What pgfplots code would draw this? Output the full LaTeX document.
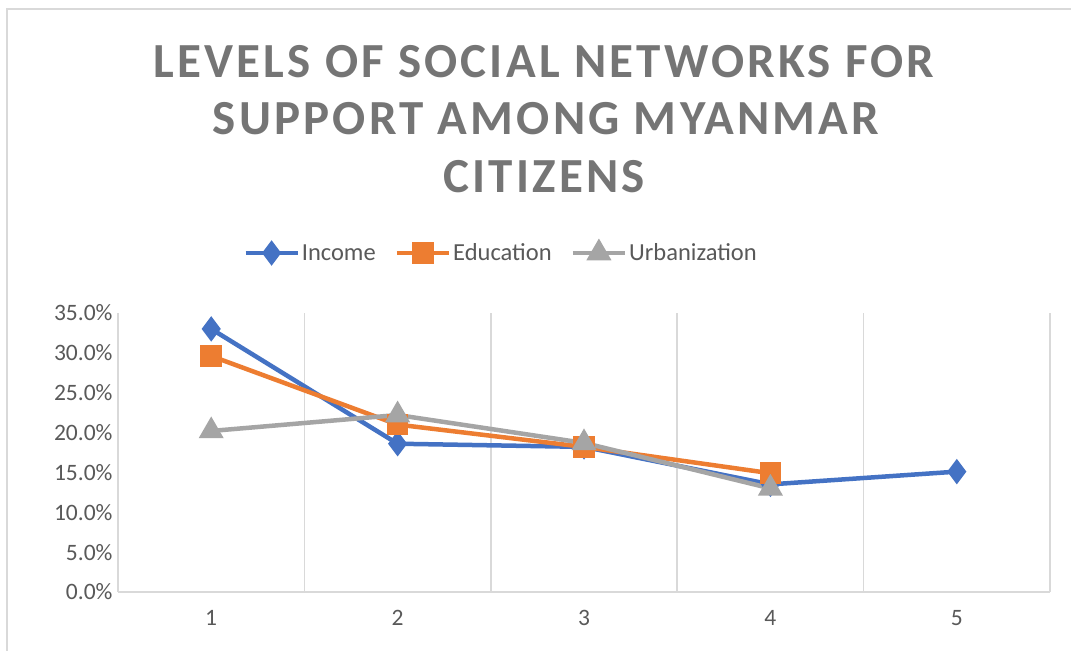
\documentclass[border=0pt]{standalone}
\usepackage{fontspec}
\setmainfont{Carlito}
\usepackage{pgfplots}
\pgfplotsset{compat=1.18}
\definecolor{cblue}{HTML}{4472C4}
\definecolor{corange}{HTML}{ED7D31}
\definecolor{cgray}{HTML}{A5A5A5}
\definecolor{gridc}{HTML}{D9D9D9}
\definecolor{txtc}{HTML}{595959}
\definecolor{titlec}{HTML}{757575}
\begin{document}
\begin{tikzpicture}[x=1bp,y=1bp]
\path[use as bounding box] (0,0) rectangle (1071,651);
\fill[white] (0,0) rectangle (1071,651);
\draw[color=gridc, line width=2bp] (7,0) -- (7,642) -- (1071,642);
\begin{scope}[every node/.style={font=\fontsize{49bp}{58bp}\bfseries\addfontfeature{LetterSpace=6.5}, text=titlec, anchor=base}]
\node at (544,573) {LEVELS OF SOCIAL NETWORKS FOR};
\node at (546,516) {SUPPORT AMONG MYANMAR};
\node at (544,458) {CITIZENS};
\end{scope}
\begin{axis}[
  at={(118bp,59bp)}, anchor=south west,
  scale only axis, width=932bp, height=279bp,
  xmin=0.5, xmax=5.5, ymin=0, ymax=35,
  xtick={1,2,3,4,5},
  minor xtick={0.5,1.5,2.5,3.5,4.5,5.5},
  xminorgrids=true,
  minor grid style={draw=gridc, line width=1.5bp},
  ytick={0,5,10,15,20,25,30,35},
  yticklabel={\pgfmathprintnumber[fixed,fixed zerofill,precision=1]{\tick}\%},
  /pgf/number format/assume math mode=true,
  major tick length=0pt, minor tick length=0pt,
  axis x line*=bottom, axis y line*=left,
  x axis line style={draw=gridc, line width=1.5bp},
  y axis line style={draw=none},
  tick label style={font=\fontsize{23.5bp}{27bp}\selectfont, text=txtc},
  yticklabel style={xshift=-2bp},
  xticklabel style={yshift=-15bp},
  legend columns=3,
  legend style={draw=none, fill=none, at={(0.411,1.215)}, anchor=center,
    font=\fontsize{24.5bp}{28bp}\selectfont, text=txtc,
    /tikz/every even column/.append style={column sep=17bp},
    inner sep=0pt},
  legend image code/.code={\draw[mark repeat=2,mark phase=2] plot coordinates {(0bp,0bp) (26bp,0bp) (52bp,0bp)};},
  every axis plot/.append style={line width=4.5bp},
]
\addplot[cblue, mark=diamond*, mark size=9bp, mark options={solid}] coordinates {(1,33.0) (2,18.6) (3,18.2) (4,13.5) (5,15.1)};
\addlegendentry{Income}
\addplot[corange, mark=square*, mark size=8.5bp] coordinates {(1,29.6) (2,21.0) (3,18.2) (4,14.9)};
\addlegendentry{Education}
\addplot[cgray, mark=triangle*, mark size=10bp] coordinates {(1,20.2) (2,22.2) (3,18.7) (4,13.0)};
\addlegendentry{Urbanization}
\end{axis}
\end{tikzpicture}
\end{document}
